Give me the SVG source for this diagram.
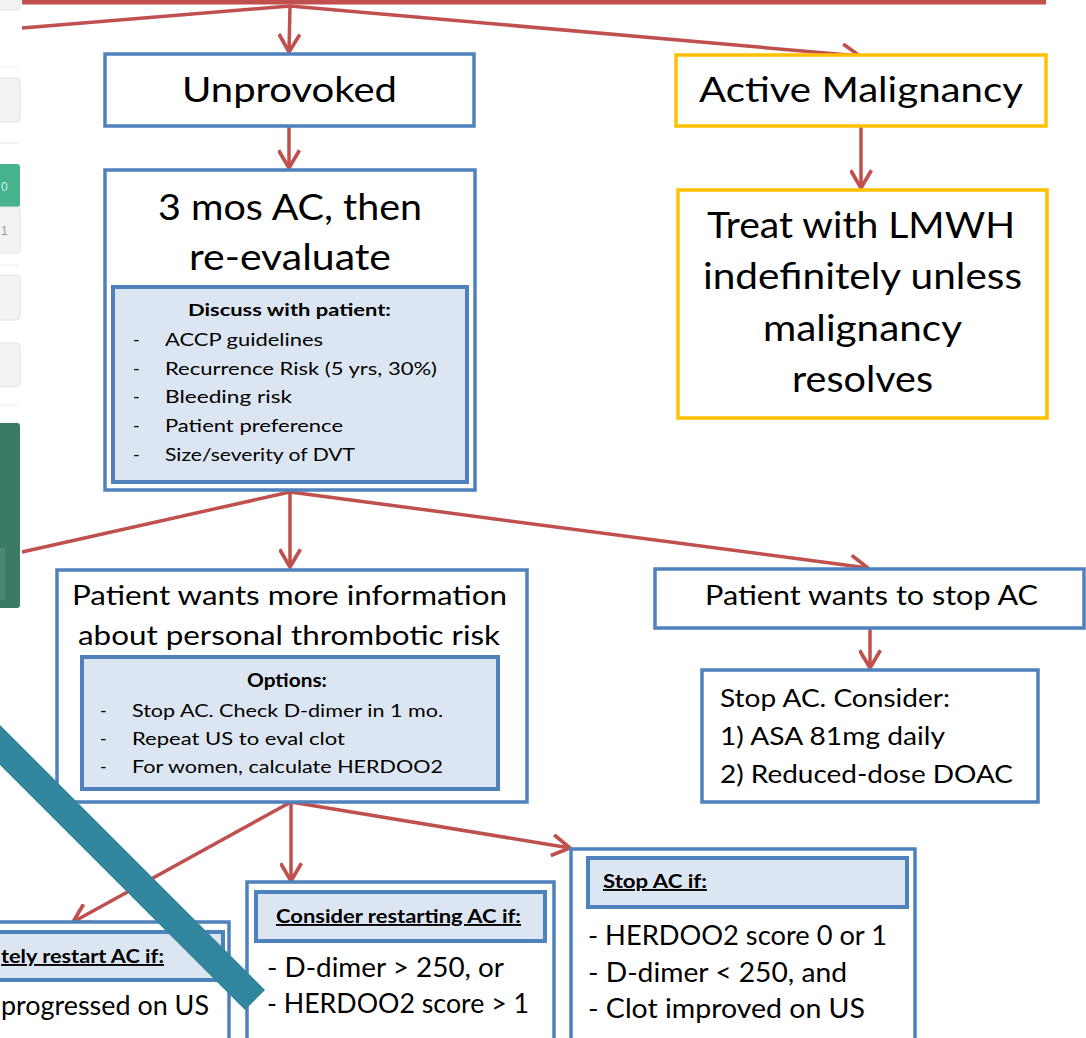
<svg xmlns="http://www.w3.org/2000/svg" width="1086" height="1038" viewBox="0 0 1086 1038">
<defs>
<style>
.t{font-family:Lato,"Open Sans","Liberation Sans",sans-serif;fill:#000}
.b{font-weight:bold}
.u{text-decoration:underline}
.blue{fill:#fff;stroke:#4F81BD;stroke-width:3.5}
.orange{fill:#fff;stroke:#FFC000;stroke-width:3.5}
.inner{fill:#DCE6F2;stroke:#4F81BD;stroke-width:4}
.con{fill:none;stroke:#C0504D;stroke-width:3.5}
.ui{fill:#f3f3f3;stroke:#e2e2e2;stroke-width:1}
</style>
<marker id="ah" viewBox="0 0 20 22" refX="18" refY="11" markerWidth="21" markerHeight="23" markerUnits="userSpaceOnUse" orient="auto">
<path d="M1,1 L18,11 L1,21" fill="none" stroke="#C0504D" stroke-width="3.5"/>
</marker>
</defs>
<rect width="1086" height="1038" fill="#fff"/>

<g id="page-strip">
<rect class="ui" x="-6" y="-4" width="26" height="14" rx="3"/>
<line x1="0" y1="67" x2="19" y2="67" stroke="#ececec" stroke-width="1"/>
<rect class="ui" x="-6" y="78" width="26" height="44" rx="4"/>
<line x1="0" y1="143" x2="19" y2="143" stroke="#f3e6e6" stroke-width="1"/>
<rect x="-6" y="164" width="26" height="43" rx="3" fill="#46B38C"/>
<text x="1" y="191" font-family="Liberation Sans,sans-serif" font-size="12" fill="#d9f0e6">0</text>
<rect class="ui" x="-6" y="207" width="26" height="46" rx="3"/>
<text x="1" y="235" font-family="Liberation Sans,sans-serif" font-size="12" fill="#999">1</text>
<line x1="0" y1="265" x2="19" y2="265" stroke="#ececec" stroke-width="1"/>
<rect class="ui" x="-6" y="275" width="26" height="45" rx="4"/>
<rect class="ui" x="-6" y="343" width="26" height="44" rx="4"/>
<line x1="0" y1="405" x2="19" y2="405" stroke="#f3e6e6" stroke-width="1"/>
<rect x="-6" y="423" width="26" height="185" rx="3" fill="#3A7B66"/>
<rect x="-6" y="548" width="11" height="52" fill="#4a8a74"/>
</g>

<g id="connectors">
<line x1="22" y1="2" x2="1046" y2="2" stroke="#C0504D" stroke-width="5"/>
<path class="con" d="M290,6 L289,52" marker-end="url(#ah)"/>
<path class="con" d="M290,6 L860,56" marker-end="url(#ah)"/>
<path class="con" d="M290,6 L22,28"/>
<path class="con" d="M289,126 L289,168" marker-end="url(#ah)"/>
<path class="con" d="M861,126 L861,188" marker-end="url(#ah)"/>
<path class="con" d="M290,492 L290,567" marker-end="url(#ah)"/>
<path class="con" d="M290,492 L868,568" marker-end="url(#ah)"/>
<path class="con" d="M290,492 L22,552"/>
<path class="con" d="M870,628 L870,668" marker-end="url(#ah)"/>
<path class="con" d="M291,802 L291,881" marker-end="url(#ah)"/>
<path class="con" d="M291,802 L73,922" marker-end="url(#ah)"/>
<path class="con" d="M291,802 L570,848" marker-end="url(#ah)"/>
</g>

<g id="unprovoked">
<rect class="blue" x="105" y="54" width="369" height="72"/>
<text class="t" x="182" y="102" font-size="35" textLength="215" lengthAdjust="spacingAndGlyphs">Unprovoked</text>
</g>

<g id="active-malignancy">
<rect class="orange" x="676" y="55" width="370" height="71"/>
<text class="t" x="699" y="102" font-size="35" textLength="324" lengthAdjust="spacingAndGlyphs">Active Malignancy</text>
</g>

<g id="three-months">
<rect class="blue" x="105" y="170" width="370" height="320"/>
<text class="t" x="158" y="220" font-size="37" textLength="264" lengthAdjust="spacingAndGlyphs">3 mos AC, then</text>
<text class="t" x="189" y="270" font-size="37" textLength="202" lengthAdjust="spacingAndGlyphs">re-evaluate</text>
<rect class="inner" x="113" y="287" width="354" height="195"/>
<text class="t b" x="188" y="316" font-size="17" textLength="203" lengthAdjust="spacingAndGlyphs">Discuss  with patient:</text>
<g class="t" font-size="18">
<text x="133" y="346">-</text>
<text x="165" y="346" textLength="158" lengthAdjust="spacingAndGlyphs">ACCP guidelines</text>
<text x="133" y="375">-</text>
<text x="165" y="375" textLength="272" lengthAdjust="spacingAndGlyphs">Recurrence Risk (5 yrs, 30%)</text>
<text x="133" y="403">-</text>
<text x="165" y="403" textLength="127" lengthAdjust="spacingAndGlyphs">Bleeding risk</text>
<text x="133" y="432">-</text>
<text x="165" y="432" textLength="178" lengthAdjust="spacingAndGlyphs">Patient preference</text>
<text x="133" y="461">-</text>
<text x="165" y="461" textLength="190" lengthAdjust="spacingAndGlyphs">Size/severity of DVT</text>
</g>
</g>

<g id="treat-lmwh">
<rect class="orange" x="678" y="190" width="369" height="228"/>
<text class="t" x="707" y="238" font-size="36" textLength="308" lengthAdjust="spacingAndGlyphs">Treat with LMWH</text>
<text class="t" x="703" y="289" font-size="36" textLength="319" lengthAdjust="spacingAndGlyphs">indefinitely unless</text>
<text class="t" x="763" y="341" font-size="36" textLength="199" lengthAdjust="spacingAndGlyphs">malignancy</text>
<text class="t" x="792" y="392" font-size="36" textLength="141" lengthAdjust="spacingAndGlyphs">resolves</text>
</g>

<g id="more-info">
<rect class="blue" x="57" y="570" width="470" height="232"/>
<text class="t" x="72" y="605" font-size="27" textLength="435" lengthAdjust="spacingAndGlyphs">Patient wants more information</text>
<text class="t" x="78" y="645" font-size="27" textLength="422" lengthAdjust="spacingAndGlyphs">about personal thrombotic risk</text>
<rect class="inner" x="82" y="657" width="416" height="132"/>
<text class="t b" x="247" y="687" font-size="18" textLength="80" lengthAdjust="spacingAndGlyphs">Options:</text>
<g class="t" font-size="18">
<text x="100" y="717">-</text>
<text x="132" y="717" textLength="311" lengthAdjust="spacingAndGlyphs">Stop AC. Check D-dimer in 1 mo.</text>
<text x="100" y="745">-</text>
<text x="132" y="745" textLength="213" lengthAdjust="spacingAndGlyphs">Repeat US to eval clot</text>
<text x="100" y="773">-</text>
<text x="132" y="773" textLength="311" lengthAdjust="spacingAndGlyphs">For women,  calculate HERDOO2</text>
</g>
</g>

<g id="wants-stop">
<rect class="blue" x="655" y="569" width="429" height="59"/>
<text class="t" x="705" y="605" font-size="27" textLength="333" lengthAdjust="spacingAndGlyphs">Patient wants to stop AC</text>
</g>

<g id="stop-consider">
<rect class="blue" x="702" y="670" width="336" height="132"/>
<text class="t" x="720" y="707" font-size="25" textLength="230" lengthAdjust="spacingAndGlyphs">Stop AC. Consider:</text>
<text class="t" x="720" y="745" font-size="25" textLength="225" lengthAdjust="spacingAndGlyphs">1) ASA 81mg daily</text>
<text class="t" x="720" y="783" font-size="25" textLength="293" lengthAdjust="spacingAndGlyphs">2) Reduced-dose  DOAC</text>
</g>

<g id="restart-now">
<rect class="blue" x="-10" y="922" width="239" height="130"/>
<rect class="inner" x="-10" y="932" width="233" height="48"/>
<text class="t b u" x="1" y="963" font-size="19" textLength="163" lengthAdjust="spacingAndGlyphs">tely restart AC if:</text>
<text class="t" x="1" y="1015" font-size="26" textLength="208" lengthAdjust="spacingAndGlyphs">progressed on US</text>
</g>

<g id="consider-restart">
<rect class="blue" x="247" y="882" width="307" height="170"/>
<rect class="inner" x="256" y="892" width="289" height="49"/>
<text class="t b u" x="276" y="923" font-size="19" textLength="245" lengthAdjust="spacingAndGlyphs">Consider restarting AC if:</text>
<text class="t" x="267" y="977" font-size="26" textLength="237" lengthAdjust="spacingAndGlyphs">- D-dimer  &gt; 250, or</text>
<text class="t" x="267" y="1013" font-size="26" textLength="262" lengthAdjust="spacingAndGlyphs">- HERDOO2 score &gt; 1</text>
</g>

<g id="stop-if">
<rect class="blue" x="571" y="849" width="344" height="203"/>
<rect class="inner" x="588" y="858" width="319" height="49"/>
<text class="t b u" x="603" y="888" font-size="19" textLength="104" lengthAdjust="spacingAndGlyphs">Stop AC if:</text>
<text class="t" x="588" y="945" font-size="26" textLength="299" lengthAdjust="spacingAndGlyphs">- HERDOO2  score 0 or 1</text>
<text class="t" x="588" y="982" font-size="26" textLength="259" lengthAdjust="spacingAndGlyphs">- D-dimer  &lt; 250, and</text>
<text class="t" x="588" y="1018" font-size="26" textLength="277" lengthAdjust="spacingAndGlyphs">- Clot improved on US</text>
</g>

<polygon id="teal-bar" points="-40,685 265,990 245,1010 -60,705" fill="#31859C"/>
</svg>
